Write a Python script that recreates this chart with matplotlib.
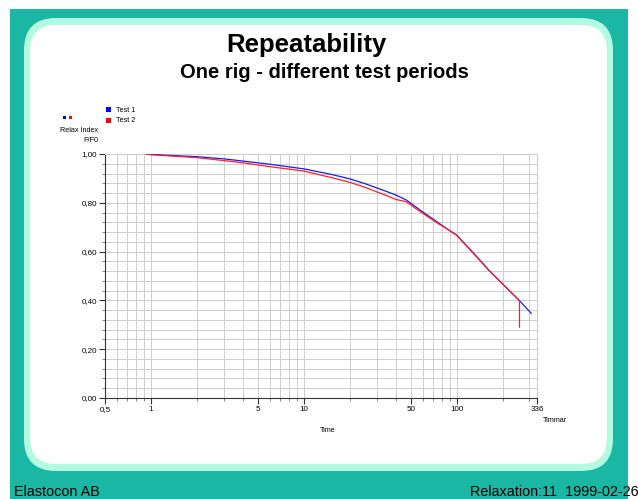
import matplotlib
matplotlib.use("Agg")
import matplotlib.pyplot as plt
from matplotlib.patches import FancyBboxPatch, Rectangle
from matplotlib.transforms import IdentityTransform
from matplotlib.ticker import FixedLocator, NullFormatter

plt.rcParams['font.family'] = ['Liberation Sans', 'DejaVu Sans']

# Test 1 (blå) och Test 2 (röd), relaxindex F/F0 mot tid i timmar
t_test1 = [0.93, 1, 2, 3, 4, 6, 10, 15, 20, 25, 30, 35, 40, 47, 53, 60, 74, 90, 100, 130, 162, 200,
           258, 308]
v_test1 = [1.0, 0.998, 0.989, 0.980, 0.971, 0.958, 0.939, 0.917, 0.898, 0.879, 0.861, 0.846, 0.832,
           0.811, 0.787, 0.763, 0.723, 0.686, 0.668, 0.592, 0.525, 0.468, 0.399, 0.347]
t_test2 = [0.93, 1, 2, 3, 4, 6, 10, 15, 20, 25, 30, 35, 40, 47, 53, 60, 74, 90, 100, 130, 162, 200,
           258, 258]
v_test2 = [1.0, 0.997, 0.985, 0.973, 0.964, 0.948, 0.930, 0.904, 0.884, 0.864, 0.845, 0.829, 0.814,
           0.804, 0.780, 0.757, 0.719, 0.686, 0.667, 0.590, 0.524, 0.467, 0.399, 0.29]

x_major = [0.5, 1, 5, 10, 50, 100, 336]
x_major_labels = ['0,5', '1', '5', '10', '50', '100', '336']
x_minor = [0.6, 0.7, 0.8, 0.9, 2, 3, 4, 6, 7, 8, 9, 20, 30, 40, 60, 70, 80, 90, 200, 300]
y_major = [0.0, 0.2, 0.4, 0.6, 0.8, 1.0]
y_major_labels = ['0,00', '0,20', '0,40', '0,60', '0,80', '1,00']
y_minor = [i * 0.04 for i in range(26)]

W, H = 638, 499
fig = plt.figure(figsize=(W / 100, H / 100), dpi=100)
fig.patch.set_facecolor('white')

teal = '#1ab7a5'
mint = '#b3fbe0'

# bakgrund: turkos ram + ljus rundad ram + vit yta (pixelkoordinater)
fig.patches.append(Rectangle((10, 0), 618, 490, transform=IdentityTransform(),
                             facecolor=teal, edgecolor='none', zorder=0))
fig.patches.append(FancyBboxPatch((24, 28), 589, 453, boxstyle="round,pad=0,rounding_size=32",
                                  transform=IdentityTransform(), facecolor=mint,
                                  edgecolor='none', zorder=0))
fig.patches.append(FancyBboxPatch((30, 35), 577, 439, boxstyle="round,pad=0,rounding_size=26",
                                  transform=IdentityTransform(), facecolor='white',
                                  edgecolor='none', zorder=0))

ax = fig.add_axes([105 / W, 1 - 398 / H, 432 / W, 244 / H])
ax.set_zorder(2)
ax.set_facecolor('white')
ax.set_xscale('log')
ax.set_xlim(0.5, 336)
ax.set_ylim(0, 1.0)

ax.xaxis.set_major_locator(FixedLocator(x_major))
ax.xaxis.set_minor_locator(FixedLocator(x_minor))
ax.set_xticklabels(x_major_labels)
ax.xaxis.set_minor_formatter(NullFormatter())
ax.yaxis.set_major_locator(FixedLocator(y_major))
ax.yaxis.set_minor_locator(FixedLocator(y_minor))
ax.set_yticklabels(y_major_labels)

ax.grid(True, which='both', color='#cdcdcd', lw=0.7)
ax.set_axisbelow(True)
ax.tick_params(which='major', length=4, width=0.8, labelsize=5.8, pad=1.5, color='#333333')
ax.tick_params(which='minor', length=2, width=0.5, color='#555555')

for side in ['top', 'right']:
    ax.spines[side].set_color('#cccccc')
    ax.spines[side].set_linewidth(0.8)
for side in ['left', 'bottom']:
    ax.spines[side].set_color('#333333')
    ax.spines[side].set_linewidth(0.8)

ax.plot(t_test1, v_test1, color='#1a1aff', lw=0.9, zorder=3)
ax.plot(t_test2, v_test2, color='#ff2020', lw=0.9, zorder=4)

# titlar
fig.text(306 / W, 1 - 45 / H, 'Repeatability', ha='center', va='center',
         fontsize=18.5, fontweight='bold', zorder=3)
fig.text(324 / W, 1 - 73 / H, 'One rig - different test periods', ha='center', va='center',
         fontsize=14.5, fontweight='bold', zorder=3)

# legend
fig.patches.append(Rectangle((106, H - 112), 5, 5, transform=IdentityTransform(),
                             facecolor='#0000ff', edgecolor='none', zorder=3))
fig.patches.append(Rectangle((106, H - 123), 5, 5, transform=IdentityTransform(),
                             facecolor='#ff0000', edgecolor='none', zorder=3))
fig.patches.append(Rectangle((63, H - 119), 3, 3, transform=IdentityTransform(),
                             facecolor='#0000ff', edgecolor='none', zorder=3))
fig.patches.append(Rectangle((69, H - 119), 3, 3, transform=IdentityTransform(),
                             facecolor='#ff0000', edgecolor='none', zorder=3))
fig.text(116 / W, 1 - 110 / H, 'Test 1', ha='left', va='center', fontsize=5.2, zorder=3)
fig.text(116 / W, 1 - 121 / H, 'Test 2', ha='left', va='center', fontsize=5.2, zorder=3)
fig.text(98 / W, 1 - 130 / H, 'Relax Index', ha='right', va='center', fontsize=5.2, zorder=3)
fig.text(98 / W, 1 - 141 / H, 'F/F0', ha='right', va='center', fontsize=5.2, zorder=3)

fig.text(328 / W, 1 - 430 / H, 'Time', ha='center', va='center', fontsize=5.2, zorder=3)
fig.text(555 / W, 1 - 420 / H, 'Timmar', ha='center', va='center', fontsize=5.2, zorder=3)

# sidfot
fig.text(14 / W, 1 - 492 / H, 'Elastocon AB', ha='left', va='center', fontsize=10.4, zorder=3)
fig.text(639 / W, 1 - 492 / H, 'Relaxation:11  1999-02-26', ha='right', va='center',
         fontsize=10.4, zorder=3)

fig.savefig('out.png', dpi=100, facecolor=fig.get_facecolor())
